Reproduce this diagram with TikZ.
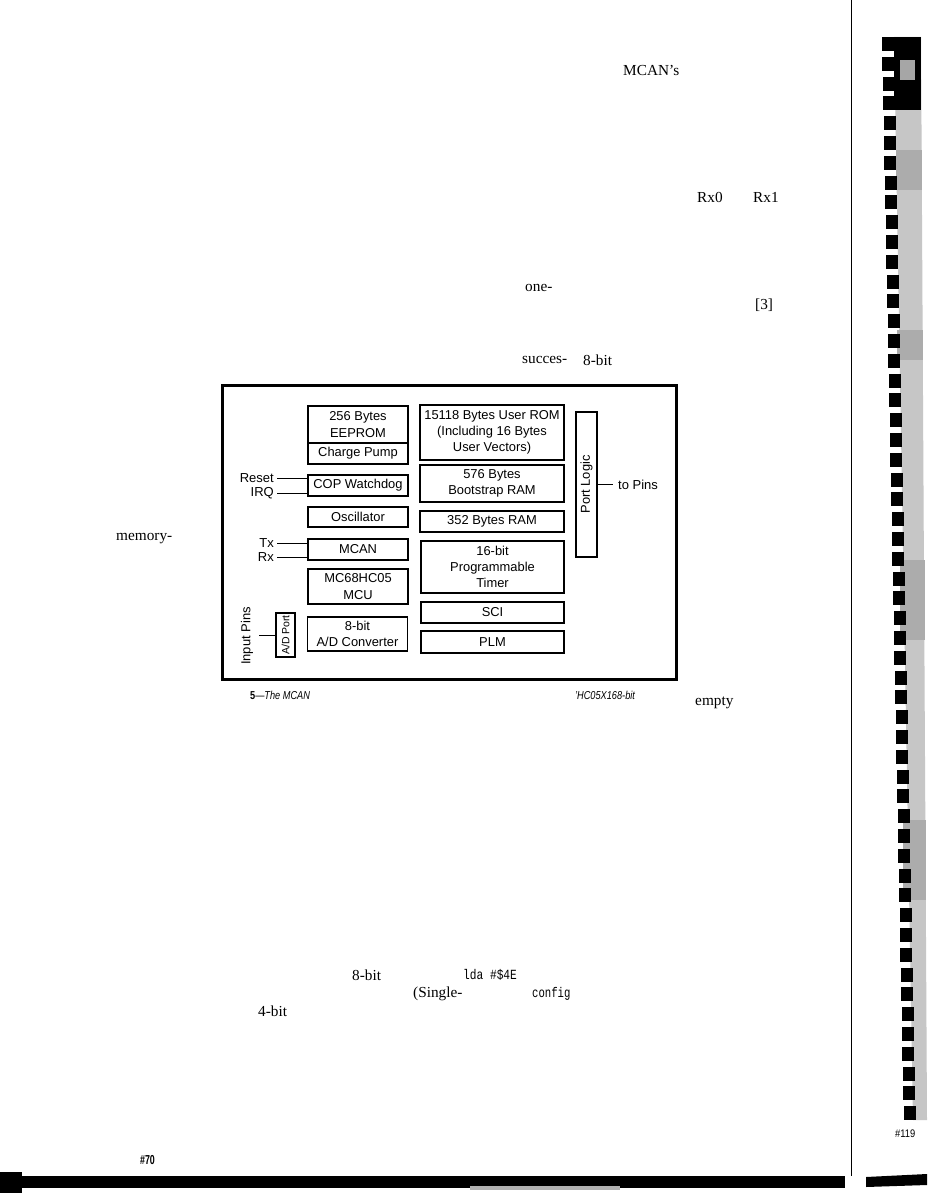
\documentclass[tikz,border=0pt]{standalone}
\usepackage{fontspec}
\setmainfont{Liberation Serif}
\newfontfamily\diagfont{Liberation Sans}
\newfontfamily\codefont{Liberation Mono}
\begin{document}
\begin{tikzpicture}[x=1pt,y=-1pt,
  blk/.style={draw, line width=1.1pt, inner sep=0pt, align=center,
    font=\diagfont\fontsize{12.9}{16.3}\selectfont},
  lbl/.style={inner sep=0pt, font=\diagfont\fontsize{13}{15}\selectfont},
  body/.style={anchor=west, inner sep=0pt, font=\fontsize{15.3}{18}\selectfont},
  wire/.style={line width=0.8pt},
  codetxt/.style={anchor=west, inner sep=0pt, font=\codefont\fontsize{14}{16}\selectfont},
  captxt/.style={anchor=west, inner sep=0pt, font=\diagfont\fontsize{11.5}{13}\selectfont\itshape, xscale=0.8}]
\useasboundingbox[fill=white] (0,0) rectangle (927,1193);

% ---------- body text fragments ----------
\node[body] (t1) at (623,70) {MCAN’s};
\node[body] (t2) at (697,197) {Rx0};
\node[body] (t3) at (753,197) {Rx1};
\node[body] (t4) at (525,288) {one-};
\node[body] (t5) at (755,305) {[3]};
\node[body] (t6) at (522,360) {succes-};
\node[body] (t7) at (583,360) {8-bit};
\node[body] (t8) at (116,539) {memory-};
\node[body] (t9) at (695,703) {empty};
\node[body] (t10) at (352,975) {8-bit};
\node[codetxt, xscale=0.8] (t11) at (463,975) {lda \#\$4E};
\node[body] (t12) at (413,994) {(Single-};
\node[codetxt, xscale=0.76] (t13) at (532,994) {config};
\node[body] (t14) at (258,1011) {4-bit};
\node[anchor=west, inner sep=0pt, font=\diagfont\bfseries\fontsize{13}{15}\selectfont, xscale=0.68] (t15) at (140,1160) {\#70};
\node[anchor=west, inner sep=0pt, font=\diagfont\fontsize{11}{13}\selectfont, xscale=0.85] (t16) at (895,1134) {\#119};

% ---------- figure frame ----------
\node[draw, line width=3pt, minimum width=454, minimum height=294, inner sep=0pt] (frame) at (449,532) {};

% left column
\node[blk, minimum width=100, minimum height=37] (eeprom) at (358,424.5) {256 Bytes\\EEPROM};
\node[blk, minimum width=100, minimum height=21] (pump) at (358,453.5) {Charge Pump};
\node[blk, minimum width=100, minimum height=21] (cop) at (358,485.5) {COP Watchdog};
\node[blk, minimum width=100, minimum height=20] (osc) at (358,517) {Oscillator};
\node[blk, minimum width=100, minimum height=21] (mcan) at (358,549.5) {MCAN};
\node[blk, minimum width=100, minimum height=35] (mcu) at (358,586.5) {MC68HC05\\MCU};
\node[blk, minimum width=100, minimum height=34] (adc) at (357.5,634) {8-bit\\A/D Converter};
\node[blk, rotate=90, minimum width=44, minimum height=19, font=\diagfont\fontsize{10.5}{12}\selectfont] (adport) at (285.5,635) {A/D Port};

% middle column
\node[blk, minimum width=144, minimum height=55] (rom) at (492,432.5) {15118 Bytes User ROM\\(Including 16 Bytes\\User Vectors)};
\node[blk, minimum width=144, minimum height=37] (boot) at (492,483.5) {576 Bytes\\Bootstrap RAM};
\node[blk, minimum width=144, minimum height=21] (ram) at (492,521.5) {352 Bytes RAM};
\node[blk, minimum width=143, minimum height=52] (timer) at (492.5,567) {16-bit\\Programmable\\Timer};
\node[blk, minimum width=143, minimum height=21] (sci) at (492.5,612.5) {SCI};
\node[blk, minimum width=143, minimum height=22] (plm) at (492.5,642) {PLM};
\draw[line width=1.8pt] (plm.north west) -- (plm.north east);

% port logic
\node[blk, rotate=90, minimum width=145, minimum height=21] (portlogic) at (586.5,484.5) {Port Logic};
\node[lbl, anchor=west, inner xsep=5pt] (topins) at (613,484.5) {to Pins};
\draw[wire] (portlogic.south) -- (topins.west);

% external signals
\node[lbl, anchor=east, inner xsep=3pt] (reset) at (277,478) {Reset};
\node[lbl, anchor=east, inner xsep=3pt] (irq) at (277,493) {IRQ};
\node[lbl, anchor=east, inner xsep=3pt] (tx) at (277,543) {Tx};
\node[lbl, anchor=east, inner xsep=3pt] (rx) at (277,557) {Rx};
\draw[wire] (reset.east) -- (reset.east -| cop.west);
\draw[wire] (irq.east) -- (irq.east -| cop.west);
\draw[wire] (tx.east) -- (tx.east -| mcan.west);
\draw[wire] (rx.east) -- (rx.east -| mcan.west);
\node[lbl, rotate=90] (inpins) at (247,636) {Input Pins};
\coordinate (inend) at (259,635);
\draw[wire] (inend) -- (adport.north);

% caption fragments
\node[anchor=west, inner sep=0pt, font=\diagfont\fontsize{11.5}{13}\selectfont, xscale=0.8] (cap1) at (250,695) {\textbf{5}—\textit{The MCAN}};
\node[captxt] (cap2) at (575,695) {’HC05X168-bit};

% ---------- page furniture ----------
\draw[line width=0.8pt] (851,0) -- (851,1176);
\fill (0,1172) rectangle (22,1193);
\fill (22,1176) rectangle (845,1188);
\fill[gray!60] (470,1186) rectangle (620,1190);
\fill (866,1177) -- (927,1174) -- (927,1185) -- (866,1187) -- cycle;

% film strip
\fill[gray!45] (894,37) -- (921,37) -- (927,1120) -- (913,1120) -- cycle;
\fill[black] (894,37) rectangle (921,110);
\fill[gray!70] (900,60) rectangle (915,80);
\fill[gray!65] (896,150) rectangle (922,190);
\fill[gray!65] (897,330) rectangle (923,360);
\fill[gray!65] (900,560) rectangle (925,640);
\fill[gray!65] (903,820) rectangle (926,900);
\foreach \i in {0,...,54}{
  \fill (882+\i*0.4, 37+\i*19.8) rectangle ++(12,14);
}
\end{tikzpicture}
\end{document}
